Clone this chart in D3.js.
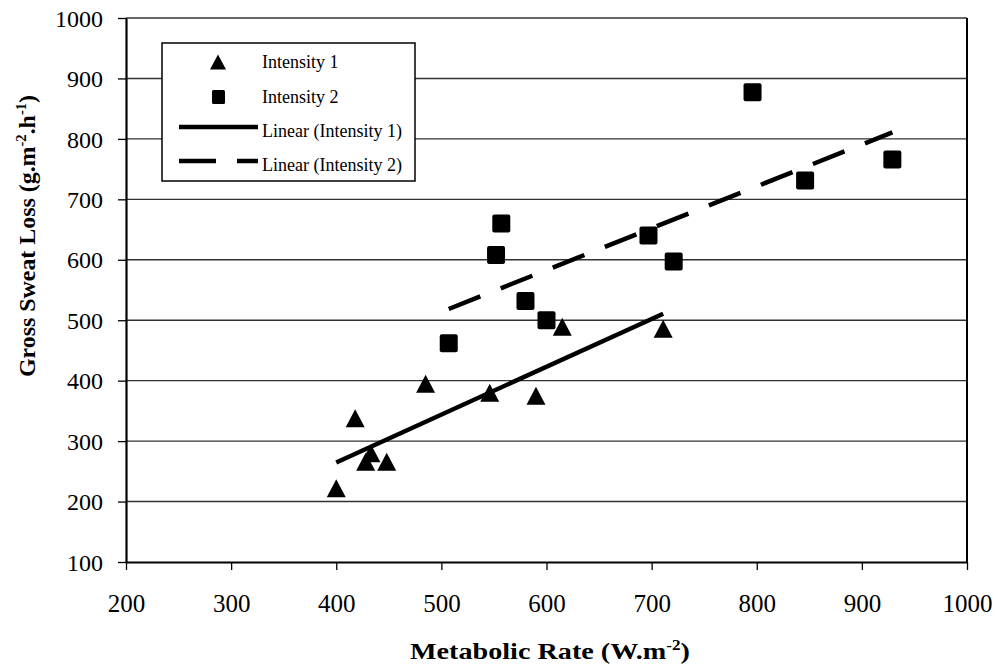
<!DOCTYPE html>
<html>
<head>
<meta charset="utf-8">
<script src="https://cdn.jsdelivr.net/npm/d3@7/dist/d3.min.js"></script>
<style>
  html, body { margin: 0; padding: 0; background: #fff; }
  svg { display: block; }
  text { font-family: "Liberation Serif", "Times New Roman", serif; fill: #000; }
</style>
</head>
<body>
<svg id="chart" width="998" height="668"></svg>
<script>
// ---- Data ----
const intensity1X = [400, 418, 428, 433, 448, 485, 546, 590, 615, 711];
const intensity1Y = [222, 338, 266, 280, 266, 395, 380, 375, 489, 486];
const intensity2X = [507, 552, 557, 580, 600, 697, 721, 796, 846, 929];
const intensity2Y = [462, 608, 660, 532, 500, 640, 597, 877, 731, 766];
const xTicks = [200, 300, 400, 500, 600, 700, 800, 900, 1000];
const yTicks = [100, 200, 300, 400, 500, 600, 700, 800, 900, 1000];
const legendLabels = ["Intensity 1", "Intensity 2", "Linear (Intensity 1)", "Linear (Intensity 2)"];

(function () {
const svg = d3.select("#chart");
const pL = 126, pR = 967, pT = 18, pB = 562;

const x = d3.scaleLinear().domain([200, 1000]).range([pL, pR]);
const y = d3.scaleLinear().domain([100, 1000]).range([pB, pT]);

// Gridlines
svg.append("g").selectAll("line").data(yTicks.filter(d => d > 100)).join("line")
  .attr("x1", pL).attr("x2", pR)
  .attr("y1", d => y(d)).attr("y2", d => y(d))
  .attr("stroke", "#333").attr("stroke-width", 1.4);

// Right border
svg.append("line").attr("x1", pR).attr("x2", pR).attr("y1", pT).attr("y2", pB)
  .attr("stroke", "#000").attr("stroke-width", 2);

// Axes
const xAxis = d3.axisBottom(x).tickValues(xTicks).tickSize(8).tickSizeOuter(0).tickFormat(d3.format("d"));
const gx = svg.append("g").attr("transform", `translate(0,${pB})`).call(xAxis);
gx.select(".domain").attr("stroke", "#000").attr("stroke-width", 2.2);
gx.selectAll(".tick line").attr("stroke", "#000").attr("stroke-width", 1.3);
gx.selectAll(".tick text").attr("font-size", 25).attr("font-family", "Liberation Serif")
  .attr("y", 50).attr("dy", 0).attr("fill", "#000");

const yAxis = d3.axisLeft(y).tickValues(yTicks).tickSize(8).tickSizeOuter(0).tickFormat(d3.format("d"));
const gy = svg.append("g").attr("transform", `translate(${pL},0)`).call(yAxis);
gy.select(".domain").attr("stroke", "#000").attr("stroke-width", 2.2);
gy.selectAll(".tick line").attr("stroke", "#000").attr("stroke-width", 1.3);
gy.selectAll(".tick text").attr("font-size", 24).attr("font-family", "Liberation Serif")
  .attr("x", -23).attr("dy", "0.34em").attr("fill", "#000");

// Linear regression trendlines
function regression(xs, ys) {
  const mx = d3.mean(xs), my = d3.mean(ys);
  let sxy = 0, sxx = 0;
  xs.forEach((v, i) => { sxy += (v - mx) * (ys[i] - my); sxx += (v - mx) * (v - mx); });
  const b = sxy / sxx, a = my - b * mx;
  const x0 = d3.min(xs), x1 = d3.max(xs);
  return [[x0, a + b * x0], [x1, a + b * x1]];
}
const line = d3.line().x(d => x(d[0])).y(d => y(d[1]));

svg.append("path").attr("d", line(regression(intensity1X, intensity1Y)))
  .attr("fill", "none").attr("stroke", "#000").attr("stroke-width", 4.5);
svg.append("path").attr("d", line(regression(intensity2X, intensity2Y)))
  .attr("fill", "none").attr("stroke", "#000").attr("stroke-width", 4.5)
  .attr("stroke-dasharray", "34,22");

// Markers
const tri = (w, h) => `M0,${-h/2}L${w/2},${h/2}L${-w/2},${h/2}Z`;
const pts1 = intensity1X.map((v, i) => [v, intensity1Y[i]]);
const pts2 = intensity2X.map((v, i) => [v, intensity2Y[i]]);

svg.append("g").selectAll("path").data(pts1).join("path")
  .attr("d", tri(19, 18))
  .attr("transform", d => `translate(${x(d[0])},${y(d[1])})`)
  .attr("fill", "#000");

svg.append("g").selectAll("rect").data(pts2).join("rect")
  .attr("x", d => x(d[0]) - 9).attr("y", d => y(d[1]) - 9)
  .attr("width", 18).attr("height", 18).attr("rx", 2)
  .attr("fill", "#000");

// Legend
const lg = svg.append("g");
lg.append("rect").attr("x", 162).attr("y", 43).attr("width", 253).attr("height", 138)
  .attr("fill", "#fff").attr("stroke", "#000").attr("stroke-width", 1.5);
const rowY = [62, 97, 131, 165];
lg.append("path").attr("d", tri(16, 15)).attr("transform", `translate(218,${rowY[0]})`).attr("fill", "#000");
lg.append("rect").attr("x", 212).attr("y", rowY[1] - 7).attr("width", 13).attr("height", 14).attr("rx", 1.5).attr("fill", "#000");
lg.append("line").attr("x1", 179).attr("x2", 258).attr("y1", rowY[2] - 4).attr("y2", rowY[2] - 4)
  .attr("stroke", "#000").attr("stroke-width", 4.5);
lg.append("line").attr("x1", 179).attr("x2", 258).attr("y1", rowY[3] - 4).attr("y2", rowY[3] - 4)
  .attr("stroke", "#000").attr("stroke-width", 4.5).attr("stroke-dasharray", "37,21");
lg.selectAll("text").data(legendLabels).join("text")
  .attr("x", 262).attr("y", (d, i) => rowY[i]).attr("dy", "0.35em")
  .attr("font-size", 18).text(d => d);

// Axis titles
const xt = svg.append("text").attr("x", 550).attr("y", 659).attr("text-anchor", "middle")
  .attr("font-size", 23).attr("font-weight", "bold")
  .attr("textLength", 280).attr("lengthAdjust", "spacingAndGlyphs");
xt.append("tspan").text("Metabolic Rate (W.m");
xt.append("tspan").attr("font-size", 14).attr("dy", -9).text("-2");
xt.append("tspan").attr("dy", 9).text(")");

const yt = svg.append("text").attr("transform", "translate(35,236) rotate(-90)")
  .attr("text-anchor", "middle").attr("font-size", 23).attr("font-weight", "bold")
  .attr("textLength", 282).attr("lengthAdjust", "spacingAndGlyphs");
yt.append("tspan").text("Gross Sweat Loss (g.m");
yt.append("tspan").attr("font-size", 14).attr("dy", -9).text("-2");
yt.append("tspan").attr("dy", 9).text(".h");
yt.append("tspan").attr("font-size", 14).attr("dy", -9).text("-1");
yt.append("tspan").attr("dy", 9).text(")");
})();
</script>
</body>
</html>
